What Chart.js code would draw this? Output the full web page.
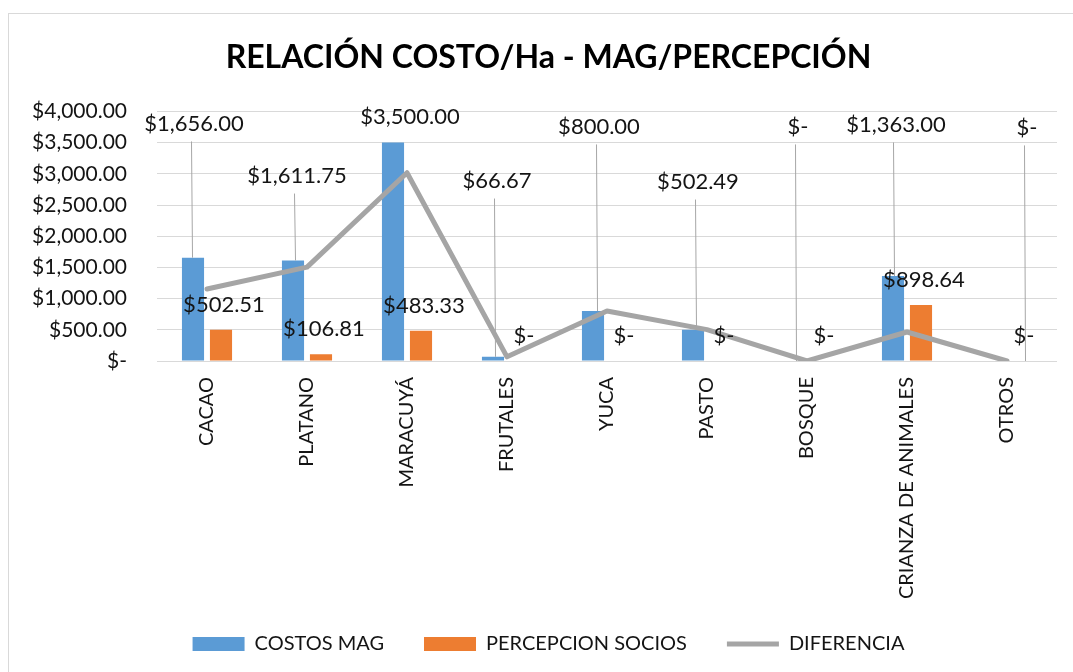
<!DOCTYPE html>
<html>
<head>
<meta charset="utf-8">
<script src="https://cdn.jsdelivr.net/npm/chart.js@4.4.0/dist/chart.umd.min.js"></script>
<style>
  html, body { margin: 0; padding: 0; background: #fff; }
  #wrap { position: relative; width: 1073px; height: 672px; overflow: hidden; }
  #frame { position: absolute; left: 8px; top: 13px; width: 1100px; height: 700px; border: 1.5px solid #D9D9D9; }
  canvas { position: absolute; left: 0; top: 0; }
</style>
</head>
<body>
<div id="wrap">
  <div id="frame"></div>
  <canvas id="chart" width="1073" height="672"></canvas>
</div>
<script>
/* ── Relación costo/Ha MAG vs percepción ── */

const categories = ['CACAO', 'PLATANO', 'MARACUYÁ', 'FRUTALES', 'YUCA', 'PASTO', 'BOSQUE', 'CRIANZA DE ANIMALES', 'OTROS'];
const costosMag = [1656.00, 1611.75, 3500.00, 66.67, 800.00, 502.49, 0, 1363.00, 0];
const percepcionSocios = [502.51, 106.81, 483.33, 0, 0, 0, 0, 898.64, 0];
const diferencia = [1153.49, 1504.94, 3016.67, 66.67, 800.00, 502.49, 0, 464.36, 0];
const yTicks = [0, 500, 1000, 1500, 2000, 2500, 3000, 3500, 4000];

// MAG labels were dragged by hand in the original: height (in $) and px nudge
const magLabelAt = [3807, 2972, 3904, 2892, 3759, 2876, 3759, 3791, 3743];
const magLabelShift = [1, 4, 17, 4, 6, 5, 5, 3, 34];

const COLORS = {
  blue:   '#5B9BD5',
  orange: '#ED7D31',
  gray:   '#A5A5A5',
  grid:   '#D9D9D9',
  leader: '#A6A6A6',
  text:   '#141414',
};

const FONT = 'Lato, "Open Sans", sans-serif';
Chart.defaults.font.family = FONT;
Chart.defaults.color = COLORS.text;

function fmt(v) {
  if (v === 0) return '$-';
  return '$' + v.toLocaleString('en-US', { minimumFractionDigits: 2, maximumFractionDigits: 2 });
}

// tick labels may spill out of their axis box (like Excel does)
function noLabelClip(scale) {
  scale._computeLabelArea = () => undefined;
}

// ── Data labels with leader lines ──
const dataLabels = {
  id: 'dataLabels',
  afterDatasetsDraw(chart) {
    const { ctx } = chart;
    const y = chart.scales.y;
    ctx.save();
    ctx.font = '22px ' + FONT;
    ctx.fillStyle = COLORS.text;
    ctx.textAlign = 'center';
    ctx.textBaseline = 'middle';

    chart.getDatasetMeta(0).data.forEach((bar, i) => {
      const lx = bar.x + magLabelShift[i];
      const ly = y.getPixelForValue(magLabelAt[i]);
      if (bar.y - ly > 35) {
        ctx.strokeStyle = COLORS.leader;
        ctx.lineWidth = 1;
        ctx.beginPath();
        ctx.moveTo(lx - 2.5, ly + 18);
        ctx.lineTo(lx - 1.5, bar.y);
        ctx.stroke();
      }
      ctx.fillText(fmt(costosMag[i]), lx, ly);
    });

    chart.getDatasetMeta(1).data.forEach((bar, i) => {
      ctx.fillText(fmt(percepcionSocios[i]), bar.x + 3, bar.y - 25);
    });
    ctx.restore();
  }
};

const ctx = document.getElementById('chart').getContext('2d');
new Chart(ctx, {
  type: 'bar',
  data: {
    labels: categories,
    datasets: [
      {
        label: 'COSTOS MAG',
        data: costosMag,
        backgroundColor: COLORS.blue,
        categoryPercentage: 0.56,
        barPercentage: 0.79,
        order: 1,
      },
      {
        label: 'PERCEPCION SOCIOS',
        data: percepcionSocios,
        backgroundColor: COLORS.orange,
        categoryPercentage: 0.56,
        barPercentage: 0.79,
        order: 1,
      },
      {
        type: 'line',
        label: 'DIFERENCIA',
        data: diferencia,
        borderColor: COLORS.gray,
        backgroundColor: COLORS.gray,
        borderWidth: 5,
        borderCapStyle: 'round',
        borderJoinStyle: 'round',
        pointRadius: 0,
        tension: 0,
        order: 0,
      },
    ]
  },
  options: {
    responsive: false,
    animation: false,
    layout: { padding: { left: 40, right: 16, top: 0, bottom: 8 } },
    plugins: {
      title: {
        display: true,
        text: 'RELACIÓN COSTO/Ha - MAG/PERCEPCIÓN',
        color: '#000',
        font: { size: 32, weight: 'bold' },
        padding: { top: 38, bottom: 35 },
      },
      legend: {
        position: 'bottom',
        labels: {
          usePointStyle: true,
          pointStyleWidth: 52,
          boxHeight: 14,
          padding: 40,
          color: COLORS.text,
          font: { size: 20 },
          sort: (a, b) => a.datasetIndex - b.datasetIndex,
          generateLabels(chart) {
            const items = Chart.defaults.plugins.legend.labels.generateLabels(chart);
            items.forEach(it => {
              it.pointStyle = it.datasetIndex === 2 ? 'line' : 'rect';
            });
            return items;
          }
        }
      },
      tooltip: { enabled: false },
    },
    scales: {
      x: {
        grid: { display: false, drawTicks: false },
        border: { display: false },
        ticks: {
          color: COLORS.text,
          font: { size: 20 },
          minRotation: 90,
          maxRotation: 90,
          padding: 16,
          autoSkip: false,
        },
        afterFit(scale) { scale.height = 233; noLabelClip(scale); }
      },
      y: {
        min: 0,
        max: 4000,
        afterBuildTicks(scale) { scale.ticks = yTicks.map(v => ({ value: v })); },
        grid: { color: COLORS.grid, lineWidth: 1, drawTicks: false },
        border: { display: false },
        ticks: {
          color: COLORS.text,
          font: { size: 21 },
          padding: 30,
          callback: v => fmt(v),
        },
        afterFit(scale) { scale.width = 117; noLabelClip(scale); }
      }
    }
  },
  plugins: [dataLabels]
});
</script>
</body>
</html>
